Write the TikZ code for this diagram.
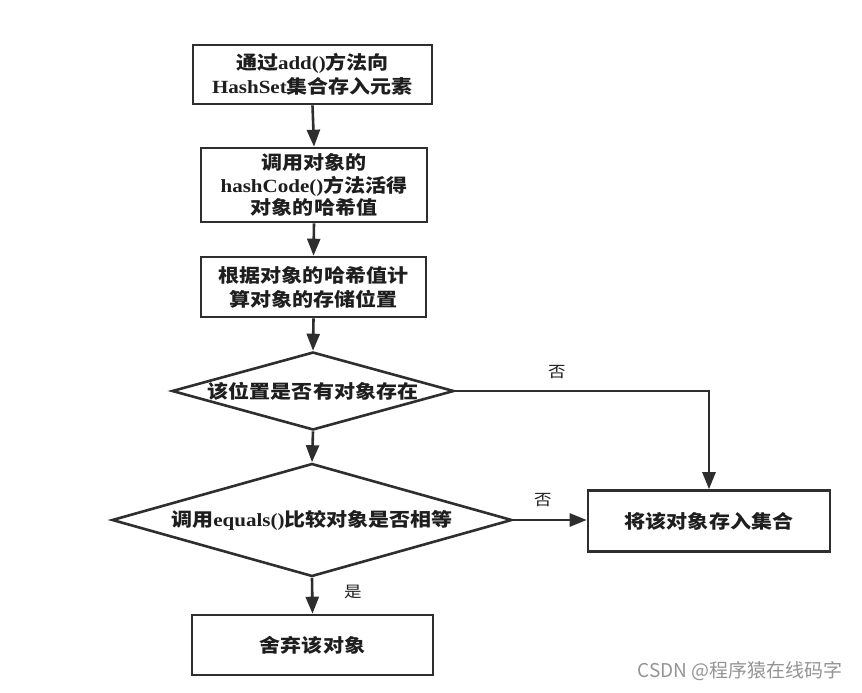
\documentclass[tikz,border=0pt]{standalone}
\usepackage{fontspec}
\setmainfont{Liberation Serif}[FakeStretch=1.13]
\newfontfamily\cjk{Noto Sans CJK SC}[FakeStretch=1.13]
\newfontfamily\wmfont{Noto Sans CJK SC}
\usetikzlibrary{arrows.meta,shapes.geometric}
\newcommand\zh[1]{{\cjk\bfseries #1}}
\newcommand\en[1]{{\bfseries #1}}
\definecolor{linec}{HTML}{2E2E2E}
\definecolor{txtc}{HTML}{1E1E1E}
\tikzset{
  box/.style={draw=linec, line width=2.6pt, rectangle, inner sep=0pt},
  dia/.style={draw=linec, line width=2.6pt, diamond, inner sep=0pt},
  txt/.style={text=txtc, align=center, font=\fontsize{18.6}{24}\selectfont},
  lbl/.style={text=txtc, font=\fontsize{15.5}{18}\selectfont\cjk},
  arr/.style={draw=linec, line width=2.6pt, -{Triangle[length=17pt,width=13pt]}},
  ln/.style={draw=linec, line width=2.6pt}
}
\begin{document}
\begin{tikzpicture}[x=1pt,y=-1pt]
\useasboundingbox[fill=white] (0,0) rectangle (862,693);
% boxes
\node[box, minimum width=239pt, minimum height=59pt] (b1) at (312.5,74.5) {};
\node[txt] (t1) at (b1.center) {\zh{通过}\en{add()}\zh{方法向}\\\en{HashSet}\zh{集合存入元素}};
\node[box, minimum width=226pt, minimum height=74pt] (b2) at (314,185) {};
\node[txt, font=\fontsize{18.6}{22.5}\selectfont] (t2) at (b2.center) {\zh{调用对象的}\\\en{hashCode()}\zh{方法活得}\\\zh{对象的哈希值}};
\node[box, minimum width=225pt, minimum height=60pt] (b3) at (313.5,287) {};
\node[txt] (t3) at (b3.center) {\zh{根据对象的哈希值计}\\\zh{算对象的存储位置}};
\node[dia, minimum width=282pt, minimum height=78pt] (d1) at (313,391) {};
\node[txt] (t4) at (d1.center) {\zh{该位置是否有对象存在}};
\node[dia, minimum width=400pt, minimum height=113pt] (d2) at (312,520) {};
\node[txt] (t5) at (d2.center) {\zh{调用}\en{equals()}\zh{比较对象是否相等}};
\node[box, minimum width=242pt, minimum height=61pt] (b4) at (709,521) {};
\node[txt] (t6) at (b4.center) {\zh{将该对象存入集合}};
\node[box, minimum width=241pt, minimum height=60pt] (b5) at (312.5,645) {};
\node[txt] (t7) at (b5.center) {\zh{舍弃该对象}};
% connectors
\draw[arr] (b1.south) -- (b2.north);
\draw[arr] (b2.south) -- (b3.north);
\draw[arr] (b3.south) -- (d1.north);
\draw[arr] (d1.south) -- (d2.north);
\draw[arr] (d1.east) -| (b4.north);
\draw[arr] (d2.east) -- (d2.east -| b4.west);
\draw[arr] (d2.south) -- (b5.north);
% labels
\node[lbl] (l1) at (557,372) {否};
\node[lbl] (l2) at (543,500) {否};
\node[lbl] (l3) at (353,592) {是};
% watermark
\node[text=black!42, font=\fontsize{19}{21}\selectfont\wmfont, anchor=east] (wm) at (846,671) {CSDN @程序猿在线码字};
\end{tikzpicture}
\end{document}
